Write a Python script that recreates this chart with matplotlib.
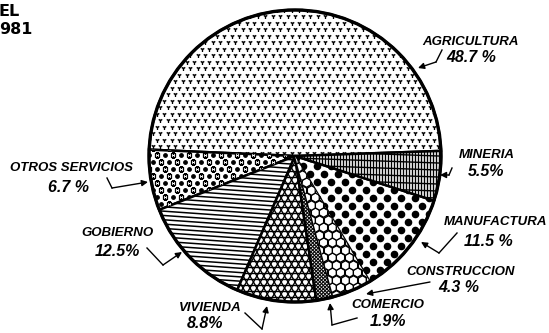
import numpy as np
import matplotlib
matplotlib.use('Agg')
import matplotlib.pyplot as plt
from matplotlib.collections import LineCollection
from matplotlib.patches import Circle

# Datos del grafico (porcentajes del PIB por sector)
sectores = ['AGRICULTURA', 'OTROS SERVICIOS', 'GOBIERNO', 'VIVIENDA',
            'COMERCIO', 'CONSTRUCCION', 'MANUFACTURA', 'MINERIA']
valores = [48.7, 6.7, 12.5, 8.8, 1.9, 4.3, 11.5, 5.5]
etiquetas_pct = ['48.7 %', '6.7 %', '12.5%', '8.8%', '1.9%', '4.3 %', '11.5 %', '5.5%']

# posiciones de los textos y flechas (en pixeles de la imagen, y hacia abajo)
pos_nombre = [(471, 42), (71, 168), (117, 233), (210, 308),
              (388, 305), (461, 272), (496, 222), (487, 155)]
pos_pct = [(471, 58), (68, 187), (117, 252), (205, 323),
           (388, 322), (459, 288), (488, 241), (486, 172)]
flechas = [[(442, 50), (436, 62), (418, 68)],
           [(107, 178), (112, 188), (148, 182)],
           [(147, 248), (163, 265), (182, 252)],
           [(245, 313), (262, 329), (267, 306)],
           [(357, 318), (332, 325), (330, 303)],
           [(430, 282), (366, 294)],
           [(457, 233), (439, 253), (421, 242)],
           [(452, 168), (449, 175), (440, 175)]]

W, H = 549, 333
cx, cy, r = 295, 177, 146


def Y(y):
    return H - y


fig = plt.figure(figsize=(5.49, 3.33), dpi=100)
ax = fig.add_axes([0, 0, 1, 1])

wedges, _ = ax.pie(valores, center=(cx, cy), radius=r, startangle=2,
                   counterclock=True,
                   wedgeprops=dict(facecolor='white', edgecolor='black', linewidth=1.8))

ax.set_xlim(0, W)
ax.set_ylim(0, H)
ax.set_aspect('equal')
ax.axis('off')


def malla(dx, dy, desfase=True):
    xs, ys = [], []
    fila = 0
    for y in np.arange(cy - r - dy, cy + r + dy, dy):
        off = dx / 2 if (desfase and fila % 2) else 0
        for x in np.arange(cx - r - dx + off, cx + r + dx, dx):
            xs.append(x)
            ys.append(y)
        fila += 1
    return np.array(xs), np.array(ys)


def rayas(angulo, sep, w, lw=1.0):
    t = np.deg2rad(angulo)
    d = np.array([np.cos(t), np.sin(t)])
    n = np.array([-np.sin(t), np.cos(t)])
    segs = []
    for k in np.arange(-r * 1.5, r * 1.5, sep):
        p = np.array([cx, cy]) + n * k
        segs.append([p - d * r * 1.5, p + d * r * 1.5])
    lc = LineCollection(segs, colors='black', linewidths=lw, zorder=1.5)
    ax.add_collection(lc)
    lc.set_clip_path(w)


# AGRICULTURA: marcas en "v"
xs, ys = malla(7.5, 6.5)
sc = ax.scatter(xs, ys, marker='1', s=10, c='black', linewidths=1.0, zorder=1.5)
sc.set_clip_path(wedges[0])

# OTROS SERVICIOS: puntos y cuadritos
xs, ys = malla(8, 7)
idx = np.arange(len(xs)) % 2 == 0
sc = ax.scatter(xs[idx], ys[idx], marker='o', s=6, c='black', zorder=1.5)
sc.set_clip_path(wedges[1])
sc = ax.scatter(xs[~idx], ys[~idx], marker='s', s=5, facecolors='white',
                edgecolors='black', linewidths=0.9, zorder=1.5)
sc.set_clip_path(wedges[1])

# GOBIERNO: rayas horizontales
rayas(-4, 4.3, wedges[2], 1.1)

# VIVIENDA: triangulos
for a in (0, 60, 120):
    rayas(a, 6, wedges[3])

# COMERCIO: cuadricula fina
rayas(45, 2.5, wedges[4], 0.8)
rayas(-45, 2.5, wedges[4], 0.8)

# CONSTRUCCION: "adoquines"
xs, ys = malla(8.5, 7.5)
sc = ax.scatter(xs, ys, marker='h', s=48, facecolors='white',
                edgecolors='black', linewidths=1.0, zorder=1.5)
sc.set_clip_path(wedges[5])

# MANUFACTURA: puntos grandes
xs, ys = malla(14, 8)
sc = ax.scatter(xs, ys, marker='o', s=20, c='black', zorder=1.5)
sc.set_clip_path(wedges[6])

# MINERIA: rayas verticales
rayas(90, 3, wedges[7])
rayas(-2, 7, wedges[7])

ax.add_patch(Circle((cx, cy), r, fill=False, edgecolor='black', linewidth=2.4, zorder=3))

fuente = dict(family='Liberation Sans', weight='bold', style='italic', color='black')
for nombre, pct, pn, pp, fl in zip(sectores, etiquetas_pct, pos_nombre, pos_pct, flechas):
    ax.text(pn[0], Y(pn[1]), nombre, fontsize=9.5, ha='center', va='center', **fuente)
    ax.text(pp[0], Y(pp[1]), pct, fontsize=11.5, ha='center', va='center', **fuente)
    pts = [(x, Y(y)) for x, y in fl]
    if len(pts) > 2:
        ax.plot([p[0] for p in pts[:-1]], [p[1] for p in pts[:-1]], color='black', lw=1.0)
    ax.annotate('', xy=pts[-1], xytext=pts[-2],
                arrowprops=dict(arrowstyle='-|>', color='black', lw=1.0,
                                mutation_scale=9, shrinkA=0, shrinkB=0))

# titulo cortado
ax.text(-1, Y(11), 'EL', fontsize=11.5, fontweight='bold', ha='left', va='center')
ax.text(-1, Y(29), '981', fontsize=11.5, fontweight='bold', ha='left', va='center')

fig.savefig('out.png', dpi=100)
